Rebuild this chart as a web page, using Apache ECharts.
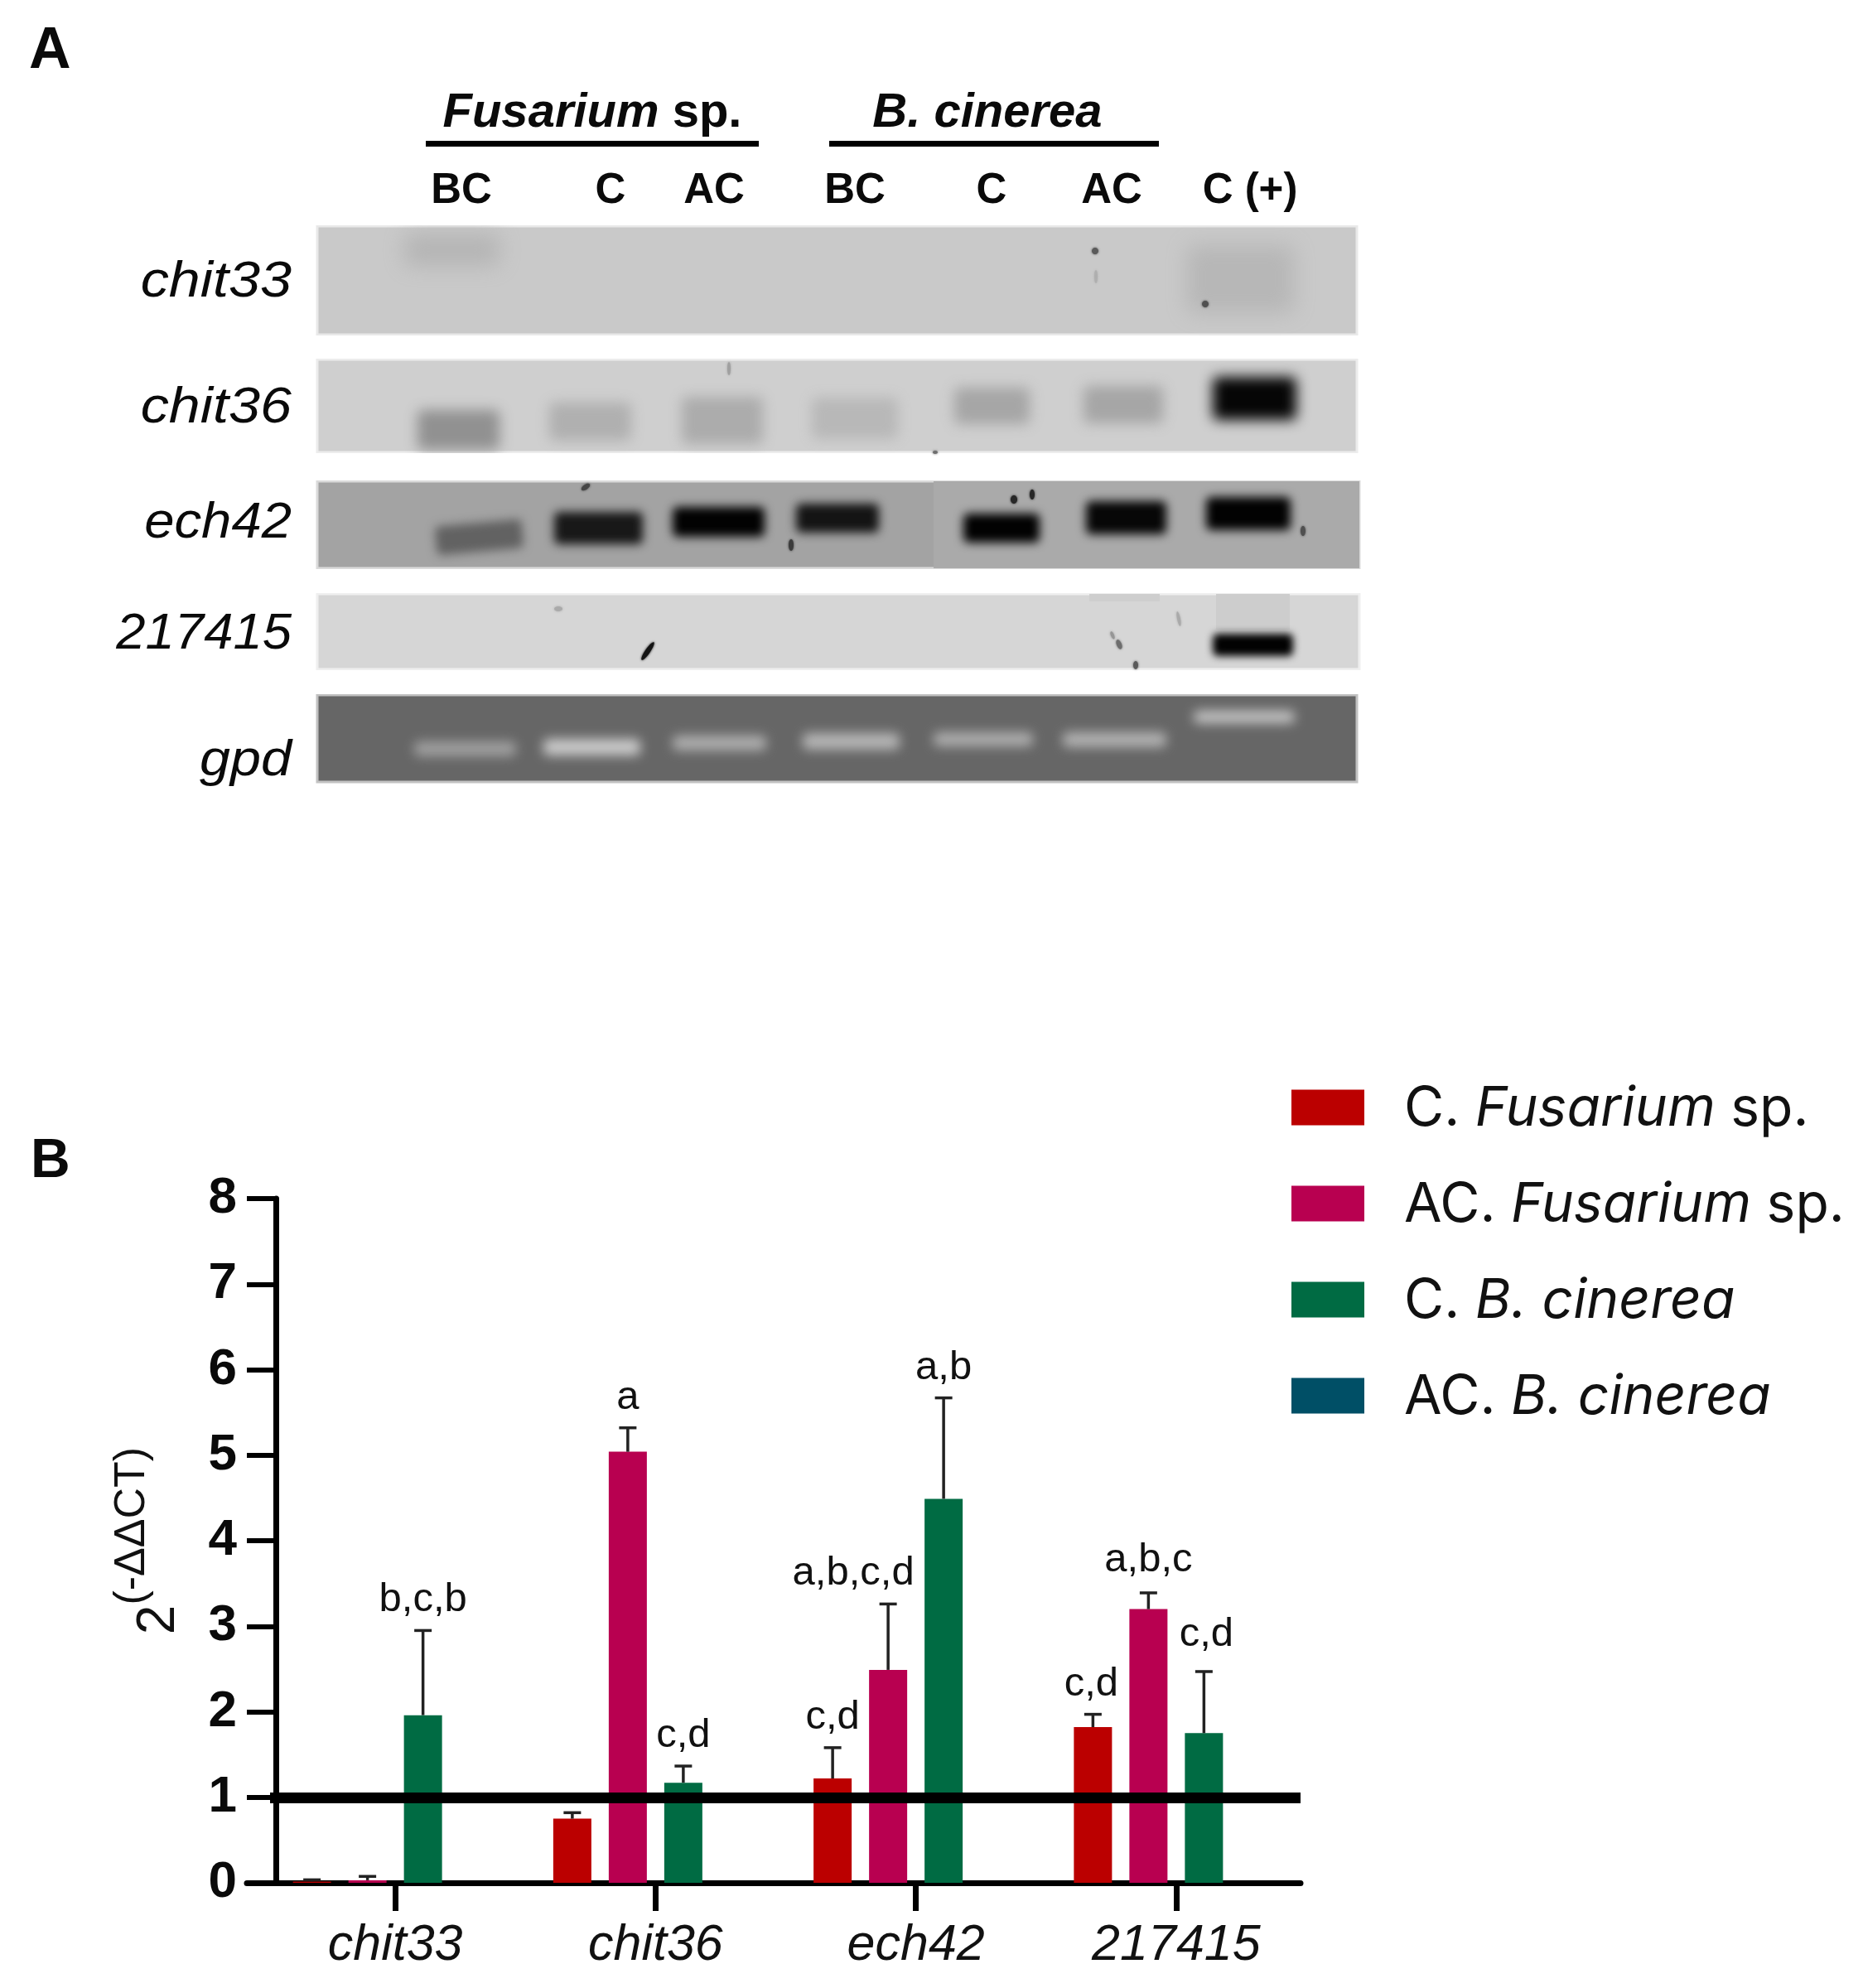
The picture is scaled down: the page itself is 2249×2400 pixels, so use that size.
<!DOCTYPE html>
<html>
<head>
<meta charset="utf-8">
<style>html,body{margin:0;padding:0;background:#fff}#chart{width:2249px;height:2400px}</style>
<script src="https://cdn.jsdelivr.net/npm/echarts@6/dist/echarts.min.js"></script>
</head>
<body>
<div id="chart"></div>
<script>
// ---------- Panel B data ----------
const genes = ['chit33', 'chit36', 'ech42', '217415'];
const yTicks = [0, 1, 2, 3, 4, 5, 6, 7, 8];
const referenceLevel = 1;
const seriesNames = ['C. Fusarium sp.', 'AC. Fusarium sp.', 'C. B. cinerea', 'AC. B. cinerea'];
const cFusarium = [0.015, 0.75, 1.22, 1.82];
const acFusarium = [0.03, 5.04, 2.49, 3.20];
const cCinerea = [1.96, 1.17, 4.49, 1.75];
const acCinerea = [null, null, null, null];
const cFusariumUpper = [0.035, 0.82, 1.58, 1.97];
const acFusariumUpper = [0.075, 5.32, 3.26, 3.39];
const cCinereaUpper = [2.95, 1.365, 5.67, 2.47];
const acCinereaUpper = [null, null, null, null];
const cFusariumLetters = ['', '', 'c,d', 'c,d'];
const acFusariumLetters = ['', 'a', 'a,b,c,d', 'a,b,c'];
const cCinereaLetters = ['b,c,b', 'c,d', 'a,b', 'c,d'];
const acCinereaLetters = ['', '', '', ''];

// ---------- Panel A data (band strength of each lane, 0..1) ----------
const gelGenes = ['chit33', 'chit36', 'ech42', '217415', 'gpd'];
const gelLanes = ['BC', 'C', 'AC', 'BC', 'C', 'AC', 'C (+)'];
const chit33Bands = [0.10, 0, 0, 0, 0, 0, 0.09];
const chit36Bands = [0.30, 0.15, 0.17, 0.11, 0.20, 0.20, 0.97];
const ech42Bands = [0.40, 0.85, 0.99, 0.88, 0.99, 0.96, 0.99];
const g217415Bands = [0, 0, 0, 0, 0, 0, 0.99];
const gpdBands = [0.38, 0.66, 0.48, 0.52, 0.48, 0.50, 0.62];
const groupTitles = ['Fusarium sp.', 'B. cinerea'];

// ---------- Layout and style (kept apart from the data) ----------
const FONT = '"Liberation Sans", Arial, sans-serif';
const seriesColors = ['#BB0000', '#B80050', '#006B43', '#004F66'];
const BAR_WIDTH = 46, BAR_STEP = 67;
const letterNudge = { 'a,b,c,d': [-42, 0], '2|3': [3, -8], '0|3': [-2, 0], '1|3': [0, -3] };
const gelPanels = [
  { x0: 383, y0: 273, x1: 1638, y1: 404, fill: 201, ink: 0 },
  { x0: 383, y0: 434, x1: 1638, y1: 546, fill: 207, ink: 0 },
  { x0: 383, y0: 581, x1: 1641, y1: 686, fill: 163, ink: 0 },
  { x0: 383, y0: 717, x1: 1641, y1: 808, fill: 214, ink: 0 },
  { x0: 383, y0: 839, x1: 1638, y1: 944, fill: 102, ink: 255 }
];
const gelBoxes = [
  [[488, 282, 603, 321], null, null, null, null, null, [1433, 296, 1562, 378]],
  [[504, 495, 603, 543], [663, 486, 762, 532], [823, 479, 921, 536], [980, 480, 1084, 530], [1152, 468, 1243, 512], [1308, 466, 1404, 511], [1464, 455, 1565, 507]],
  [[526, 631, 631, 666], [669, 618, 776, 657], [812, 612, 923, 648], [961, 608, 1061, 643], [1163, 620, 1255, 655], [1311, 605, 1408, 645], [1456, 600, 1558, 640]],
  [null, null, null, null, null, null, [1464, 765, 1561, 792]],
  [[500, 895, 623, 913], [656, 892, 773, 912], [812, 888, 925, 906], [969, 885, 1086, 905], [1127, 884, 1247, 901], [1283, 884, 1408, 902], [1441, 858, 1563, 873]]
];
const gelBoxTilt = { '2|0': 0.09 };
const gelBlur = [26, 16, 12, 10, 14];
const gelGaps = [[370, 255, 1660, 272], [370, 405, 1660, 433], [370, 547, 1660, 580], [370, 687, 1660, 716], [370, 809, 1660, 838]];
const gelArtifacts = [
  // x, y, rx, ry, rotation, grey
  [1322, 303, 4, 4, 0, 90], [1455, 367, 4, 4, 0, 80], [782, 786, 3, 13, -0.6, 20],
  [1224, 603, 4, 5, 0, 40], [1246, 597, 3, 6, 0, 40], [955, 658, 3, 7, 0, 60],
  [1573, 641, 3, 6, 0, 80], [707, 588, 6, 3, 0.6, 70], [1351, 778, 3, 6, 0.4, 110],
  [1371, 803, 3, 5, 0, 90], [1343, 767, 2, 5, 0.4, 150], [1423, 747, 2, 9, 0.2, 170],
  [674, 735, 5, 3, 0, 170], [880, 445, 2, 8, 0, 160], [1323, 334, 2, 8, 0, 175], [1129, 546, 3, 2, 0, 110]
];
const gelSmears = [[1468, 717, 1557, 760, 205], [1315, 717, 1400, 726, 206]];
const gelSeams = [[1127, 581, 1641, 686, 170]];
const laneLabelX = [557, 737, 862, 1032, 1197, 1342, 1509];
const rowLabelBaseline = [359, 511, 650, 784, 937];
const rowLabelStretch = [1.12, 1.12, 1.07, 1.04, 1.09];
const grey = v => { const c = Math.round(v); return 'rgb(' + c + ',' + c + ',' + c + ')'; };

// ---------- Helpers that turn the arrays into marks ----------
const errData = [cFusariumUpper, acFusariumUpper, cCinereaUpper, acCinereaUpper];
const valData = [cFusarium, acFusarium, cCinerea, acCinerea];
const letterData = [cFusariumLetters, acFusariumLetters, cCinereaLetters, acCinereaLetters];

function errorSeries(s) {
  return {
    type: 'custom', name: 'err' + s, xAxisIndex: 0, yAxisIndex: 0, silent: true, z: 6, clip: false,
    data: genes.map((g, i) => [i, valData[s][i], errData[s][i]]).filter(d => d[1] != null),
    renderItem: function (params, api) {
      const i = api.value(0);
      const base = api.coord([i, api.value(1)]);
      const top = api.coord([i, api.value(2)]);
      const x = base[0] + (s - 1.5) * BAR_STEP;
      const cap = 10.5;
      const children = [
        { type: 'line', shape: { x1: x, y1: base[1], x2: x, y2: top[1] }, style: { stroke: '#222', lineWidth: 3.5 } },
        { type: 'line', shape: { x1: x - cap, y1: top[1], x2: x + cap, y2: top[1] }, style: { stroke: '#222', lineWidth: 3.5 } }
      ];
      const t = letterData[s][i];
      if (t) {
        const nudge = letterNudge[t] || letterNudge[s + '|' + i] || [0, 0];
        children.push({
          type: 'text',
          style: { text: t, x: x + nudge[0], y: top[1] - 12 + nudge[1], align: 'center', verticalAlign: 'bottom', font: 'normal 49px ' + FONT, fill: '#111' }
        });
      }
      return { type: 'group', children: children };
    }
  };
}

function plainRectSeries(name, z, rects, colorOf) {
  return {
    type: 'custom', name: name, xAxisIndex: 3, yAxisIndex: 3, silent: true, z: z, clip: false,
    data: rects.map((d, i) => [i, 0]),
    renderItem: function (params, api) {
      const d = rects[api.value(0)];
      const a = api.coord([d[0], d[1]]), b = api.coord([d[2], d[3]]);
      return { type: 'rect', shape: { x: a[0], y: a[1], width: b[0] - a[0], height: b[1] - a[1] }, style: { fill: colorOf(d) } };
    }
  };
}

function gelPanelSeries() {
  return {
    type: 'custom', name: 'gel panels', xAxisIndex: 3, yAxisIndex: 3, silent: true, z: 1, clip: false,
    data: gelGenes.map((g, i) => [i, 0]),
    renderItem: function (params, api) {
      const p = gelPanels[api.value(0)];
      const a = api.coord([p.x0, p.y0]), b = api.coord([p.x1, p.y1]);
      return {
        type: 'rect', shape: { x: a[0], y: a[1], width: b[0] - a[0], height: b[1] - a[1] },
        style: { fill: grey(p.fill), stroke: grey(p.fill + (255 - p.fill) * 0.6), lineWidth: 3 }
      };
    }
  };
}

const bandRows = [];
[chit33Bands, chit36Bands, ech42Bands, g217415Bands, gpdBands].forEach((row, g) => {
  row.forEach((v, l) => { if (v > 0) bandRows.push([g, l, v]); });
});
const OFFSCREEN = 4000;
function gelBandSeries() {
  return {
    type: 'custom', name: 'gel bands', xAxisIndex: 3, yAxisIndex: 3, silent: true, z: 3, clip: false,
    data: bandRows,
    renderItem: function (params, api) {
      const g = api.value(0), l = api.value(1), v = api.value(2);
      const box = gelBoxes[g][l], p = gelPanels[g];
      const a = api.coord([box[0], box[1]]), b = api.coord([box[2], box[3]]);
      const c = grey(p.fill + (p.ink - p.fill) * v);
      const w = b[0] - a[0], h = b[1] - a[1];
      const cx = (a[0] + b[0]) / 2, cy = (a[1] + b[1]) / 2;
      // The rectangle itself sits off the page; only its blurred shadow lands on the gel.
      return {
        type: 'rect', x: cx - OFFSCREEN, y: cy, rotation: gelBoxTilt[g + '|' + l] || 0,
        shape: { x: -w / 2, y: -h / 2, width: w, height: h, r: 6 },
        style: { fill: c, shadowColor: c, shadowBlur: gelBlur[g], shadowOffsetX: OFFSCREEN, shadowOffsetY: 0 }
      };
    }
  };
}
function gelArtifactSeries() {
  return {
    type: 'custom', name: 'gel specks', xAxisIndex: 3, yAxisIndex: 3, silent: true, z: 5, clip: false,
    data: gelArtifacts.map((d, i) => [i, 0]),
    renderItem: function (params, api) {
      const d = gelArtifacts[api.value(0)];
      const a = api.coord([d[0], d[1]]);
      return {
        type: 'ellipse', x: a[0], y: a[1], rotation: d[4],
        shape: { cx: 0, cy: 0, rx: d[2], ry: d[3] },
        style: { fill: grey(d[5]), shadowBlur: 3, shadowColor: grey(d[5]) }
      };
    }
  };
}

// ---------- Page texts ----------
function txt(o) {
  const size = parseInt(o.font.match(/(\d+)px/)[1], 10);
  return {
    type: 'text', x: o.x, y: o.y - size * 0.79, scaleX: o.sx || 1, z: 20, silent: true,
    style: { text: o.text, align: o.align || 'center', font: o.font, fill: o.fill || '#0a0a0a', rich: o.rich }
  };
}
const graphics = [
  txt({ text: 'A', x: 35, y: 83, align: 'left', font: 'bold 70px ' + FONT }),
  txt({ text: 'B', x: 37, y: 1422, align: 'left', font: 'bold 66px ' + FONT }),
  txt({ text: '{i|Fusarium}{n| sp.}', x: 715, y: 154, font: 'bold 58px ' + FONT,
    rich: { i: { fontSize: 58, fontWeight: 'bold', fontStyle: 'italic', fontFamily: FONT, fill: '#0a0a0a' }, n: { fontSize: 58, fontWeight: 'bold', fontFamily: FONT, fill: '#0a0a0a' } } }),
  txt({ text: groupTitles[1], x: 1192, y: 154, font: 'italic bold 58px ' + FONT }),
  { type: 'rect', z: 20, silent: true, shape: { x: 514, y: 170, width: 402, height: 7 }, style: { fill: '#000' } },
  { type: 'rect', z: 20, silent: true, shape: { x: 1001, y: 170, width: 398, height: 7 }, style: { fill: '#000' } }
];
gelLanes.forEach((t, i) => graphics.push(txt({ text: t, x: laneLabelX[i], y: 246, font: 'bold 51px ' + FONT })));
gelGenes.forEach((t, i) => graphics.push(txt({ text: t, x: 352, y: rowLabelBaseline[i], align: 'right', font: 'italic 61px ' + FONT, sx: rowLabelStretch[i] })));

// ---------- Chart ----------
const hiddenValue = (extra) => Object.assign({ type: 'value', show: false, splitLine: { show: false } }, extra);
const legendItems = seriesNames.map(n => n.replace(/^(A?C\. )(.*?)( sp\.)?$/, (m, a, b, c) => '{n|' + a + '}{i|' + b + '}' + (c ? '{n|' + c + '}' : '')));

const option = {
  backgroundColor: '#fff',
  animation: false,
  textStyle: { fontFamily: FONT },
  grid: [
    { left: 320, top: 1447, width: 1257, height: 826 },
    { left: 298, top: 1447, width: 1272, height: 826 },
    { left: 326, top: 1447, width: 1244, height: 826 },
    { left: 0, top: 0, width: 2249, height: 2400 }
  ],
  xAxis: [
    { type: 'category', gridIndex: 0, data: genes, boundaryGap: true,
      axisLine: { show: false },
      axisTick: { show: true, alignWithLabel: true, length: 34, lineStyle: { color: '#000', width: 7 } },
      axisLabel: { margin: 46, fontSize: 61, fontStyle: 'italic', fontFamily: FONT, color: '#111', interval: 0 },
      splitLine: { show: false } },
    { type: 'value', gridIndex: 1, min: 0, max: 1, splitNumber: 1, position: 'bottom',
      axisLine: { show: true, lineStyle: { color: '#000', width: 7 } },
      axisTick: { show: false }, axisLabel: { show: false }, splitLine: { show: false } },
    hiddenValue({ gridIndex: 2, min: 0, max: 1 }),
    hiddenValue({ gridIndex: 3, min: 0, max: 2249 })
  ],
  yAxis: [
    { type: 'value', gridIndex: 0, min: 0, max: 8, interval: 1, offset: -13,
      axisLine: { show: true, onZero: false, lineStyle: { color: '#000', width: 7 } },
      axisTick: { show: true, length: 35, lineStyle: { color: '#000', width: 6 } },
      axisLabel: { margin: 47, fontSize: 62, lineHeight: 68, fontWeight: 'bold', fontFamily: FONT, color: '#0a0a0a', padding: [6, 0, 0, 0],
        customValues: yTicks, formatter: v => String(v) },
      splitLine: { show: false },
      name: '{b|2}{s|(-ΔΔCT)}', nameLocation: 'middle', nameRotate: 90, nameGap: 109,
      nameTextStyle: { rich: {
        b: { fontSize: 64, fontFamily: FONT, color: '#111', lineHeight: 90, verticalAlign: 'bottom' },
        s: { fontSize: 52, fontFamily: FONT, color: '#111', lineHeight: 52, verticalAlign: 'top' } } } },
    hiddenValue({ gridIndex: 1, min: 0, max: 8 }),
    hiddenValue({ gridIndex: 2, min: 0, max: 8 }),
    hiddenValue({ gridIndex: 3, min: 0, max: 2400, inverse: true })
  ],
  legend: {
    orient: 'vertical', left: 1559, top: 1306, padding: 0, itemWidth: 88, itemHeight: 43, itemGap: 50, selectedMode: false,
    icon: 'rect', data: seriesNames, formatter: n => legendItems[seriesNames.indexOf(n)],
    textStyle: { padding: [4, 0, 0, 43], rich: {
      n: { fontSize: 66, fontFamily: 'Inter, ' + FONT, color: '#111' },
      i: { fontSize: 66, fontStyle: 'italic', fontFamily: 'Inter, ' + FONT, color: '#111' } } }
  },
  graphic: { elements: graphics },
  series: valData.map((d, s) => ({
    type: 'bar', name: seriesNames[s], xAxisIndex: 0, yAxisIndex: 0, data: d,
    barWidth: BAR_WIDTH, barGap: ((BAR_STEP - BAR_WIDTH) / BAR_WIDTH * 100) + '%',
    itemStyle: { color: seriesColors[s] }, z: 3
  })).concat([0, 1, 2].map(errorSeries)).concat([
    { type: 'line', name: 'baseline holder', xAxisIndex: 2, yAxisIndex: 2, data: [], z: 8, silent: true,
      markLine: { silent: true, symbol: 'none', animation: false, label: { show: false },
        lineStyle: { color: '#000', width: 13, type: 'solid' }, data: [{ yAxis: referenceLevel }] } },
    gelPanelSeries(),
    plainRectSeries('gel shading', 2, gelSeams.concat(gelSmears), d => grey(d[4])),
    gelBandSeries(),
    plainRectSeries('gel gaps', 4, gelGaps, () => '#fff'),
    gelArtifactSeries()
  ])
};

const chart = echarts.init(document.getElementById('chart'), null, { renderer: 'canvas' });
chart.setOption(option);
</script>
</body>
</html>
